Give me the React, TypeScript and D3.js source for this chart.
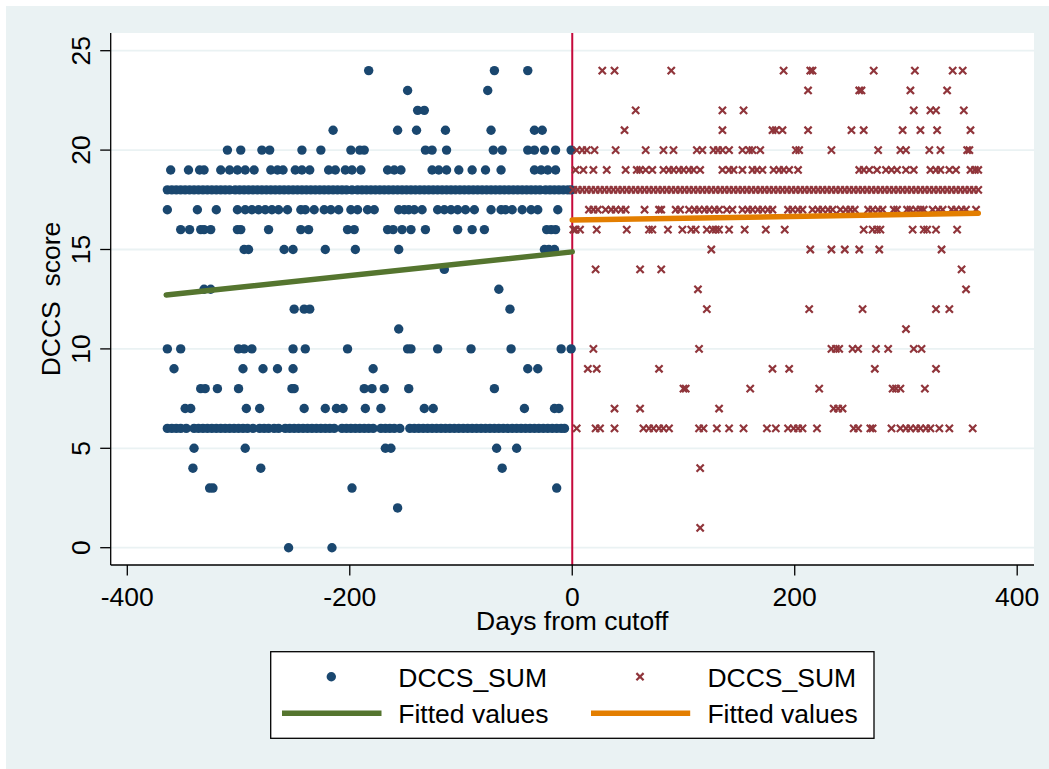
import React from "react";
import { scaleLinear, line } from "d3";

// DCCS score by days from cutoff
const leftRows: [number, number[]][] = [
  [24, [-183, -70, -40]],
  [23, [-148, -76]],
  [22, [-139, -133]],
  [21, [-215, -157, -140, -114, -73, -34, -27]],
  [20, [-310, -298, -279, -272, -243, -226, -199, -191, -187, -132, -126, -113, -71, -63, -40, -34, -25, -15, -1]],
  [19, [-361, -345, -335, -331, -316, -308, -301, -294, -286, -271, -265, -260, -249, -243, -236, -219, -213, -204, -198, -190, -166, -160, -154, -126, -120, -113, -102, -90, -78, -64, -34, -28, -22, -15]],
  [18, [-364, -360, -356, -352, -348, -344, -340, -336, -332, -328, -324, -320, -316, -312, -308, -303, -299, -295, -291, -287, -283, -279, -275, -271, -267, -263, -259, -255, -251, -247, -243, -239, -235, -231, -227, -223, -219, -215, -211, -207, -203, -198, -193, -189, -185, -181, -177, -173, -169, -165, -161, -157, -153, -149, -145, -141, -137, -133, -129, -125, -121, -117, -113, -109, -105, -101, -97, -93, -89, -85, -81, -77, -73, -69, -65, -61, -57, -53, -49, -45, -41, -37, -33, -29, -24, -20, -16, -12, -8, -4, -1]],
  [17, [-364, -337, -320, -301, -294, -288, -282, -276, -270, -264, -256, -244, -240, -232, -223, -217, -210, -199, -193, -184, -178, -156, -151, -147, -142, -135, -121, -115, -109, -103, -96, -88, -73, -64, -60, -54, -45, -37, -31, -13]],
  [16, [-352, -344, -334, -331, -325, -301, -298, -273, -244, -237, -202, -196, -166, -161, -153, -145, -132, -103, -90, -79, -23, -19, -15]],
  [15, [-295, -291, -259, -251, -222, -195, -156, -25, -21, -16]],
  [14, [-115]],
  [13, [-331, -325, -66]],
  [12, [-250, -241, -236, -56]],
  [11, [-156]],
  [10, [-364, -352, -300, -295, -288, -251, -240, -202, -148, -145, -121, -91, -55, -10, -1]],
  [9, [-358, -296, -278, -265, -251, -179, -40, -31]],
  [8, [-334, -330, -319, -300, -252, -250, -187, -180, -169, -147, -70]],
  [7, [-348, -343, -293, -281, -241, -222, -212, -206, -186, -172, -133, -125, -43, -16, -12]],
  [6, [-364, -360, -356, -352, -347, -340, -336, -332, -328, -324, -320, -316, -312, -308, -304, -300, -296, -292, -287, -281, -277, -273, -268, -264, -258, -254, -250, -246, -242, -238, -234, -230, -226, -222, -218, -214, -207, -203, -199, -195, -191, -187, -183, -179, -172, -168, -164, -160, -155, -146, -142, -138, -134, -130, -126, -122, -118, -114, -110, -106, -102, -98, -94, -90, -86, -82, -78, -74, -70, -66, -62, -58, -54, -50, -46, -42, -38, -34, -30, -26, -22, -18, -14, -10, -7]],
  [5, [-340, -294, -168, -163, -68, -50]],
  [4, [-341, -280, -63]],
  [3, [-326, -323, -198, -14]],
  [2, [-157]],
  [0, [-255, -216]],
];

const rightRows: [number, number[]][] = [
  [24, [27, 38, 89, 190, 214, 216, 271, 308, 342, 351]],
  [23, [212, 258, 260, 304, 337]],
  [22, [57, 135, 154, 307, 322, 327, 352]],
  [21, [47, 135, 180, 183, 189, 212, 251, 262, 297, 313, 328, 358]],
  [20, [4, 9, 13, 20, 39, 66, 82, 91, 112, 117, 127, 131, 135, 141, 153, 159, 162, 169, 201, 204, 233, 275, 295, 300, 321, 331, 355, 357]],
  [19, [3, 10, 19, 31, 48, 58, 61, 66, 72, 82, 87, 91, 96, 100, 105, 109, 115, 135, 141, 145, 153, 162, 166, 171, 181, 186, 190, 195, 203, 258, 262, 267, 274, 282, 287, 292, 300, 307, 322, 327, 331, 339, 345, 358, 362, 365]],
  [18, [1, 5, 9, 13, 17, 21, 25, 29, 33, 37, 41, 45, 49, 53, 57, 61, 65, 69, 73, 77, 81, 85, 89, 93, 97, 101, 105, 109, 113, 117, 121, 125, 129, 133, 137, 141, 145, 149, 153, 157, 161, 165, 169, 173, 177, 181, 185, 189, 193, 197, 201, 205, 209, 213, 217, 221, 225, 229, 233, 237, 241, 245, 249, 253, 257, 261, 265, 269, 273, 277, 281, 285, 289, 293, 297, 301, 305, 309, 313, 317, 321, 325, 329, 333, 337, 341, 345, 349, 353, 357, 361, 365]],
  [17, [15, 19, 23, 30, 35, 39, 44, 48, 65, 78, 80, 93, 97, 105, 110, 114, 119, 123, 128, 132, 139, 144, 153, 158, 162, 167, 171, 176, 180, 194, 198, 203, 207, 216, 221, 225, 230, 234, 241, 246, 250, 254, 266, 270, 275, 279, 289, 292, 301, 304, 309, 313, 316, 324, 329, 333, 341, 345, 350, 354, 363]],
  [16, [1, 3, 7, 22, 49, 69, 72, 86, 99, 107, 111, 121, 126, 129, 132, 141, 155, 174, 191, 262, 270, 274, 277, 306, 316, 319, 327, 346]],
  [15, [125, 214, 233, 245, 258, 276, 332]],
  [14, [21, 61, 80, 350]],
  [13, [113, 354]],
  [12, [121, 213, 261, 327, 339]],
  [11, [300]],
  [10, [19, 114, 233, 237, 240, 252, 257, 273, 284, 307, 314]],
  [9, [14, 22, 78, 180, 195, 272, 327]],
  [8, [100, 102, 160, 222, 288, 291, 295, 317]],
  [7, [38, 61, 132, 235, 239, 243]],
  [6, [4, 21, 25, 38, 64, 69, 73, 78, 82, 87, 114, 118, 130, 141, 154, 175, 183, 194, 199, 203, 207, 220, 253, 257, 268, 270, 287, 295, 300, 304, 309, 313, 318, 322, 330, 339, 360]],
  [4, [115]],
  [1, [115]],
];

// fitted line end points [day, value]
const leftFit: [number, number][] = [[-365, 12.71], [0, 14.88]];
const rightFit: [number, number][] = [[0, 16.48], [365, 16.82]];

const xTicks = [-400, -200, 0, 200, 400];
const yTicks = [0, 5, 10, 15, 20, 25];
const legendLabels = ["DCCS_SUM", "DCCS_SUM", "Fitted values", "Fitted values"];

const NAVY = "#1A476F";
const MAROON = "#90353B";
const GREEN = "#55752F";
const ORANGE = "#E37E00";
const XLINE = "#C5093B";
const BG = "#EAF2F3";
const FONT = "Arial, 'Liberation Sans', Helvetica, sans-serif";

const xMark = "M-3.6,-3.6L3.6,3.6M-3.6,3.6L3.6,-3.6";

export default function App() {
  const width = 1049;
  const height = 769;
  const plot = { left: 110.7, right: 1034, top: 33, bottom: 565 };

  const x = scaleLinear().domain([-400, 400]).range([127.3, 1017.2]);
  const y = scaleLinear().domain([0, 25]).range([547.7, 50.7]);
  const fitLine = line<[number, number]>()
    .x(d => x(d[0]))
    .y(d => y(d[1]));

  const leftPts = leftRows.flatMap(([score, days]) => days.map(d => ({ d, score })));
  const rightPts = rightRows.flatMap(([score, days]) => days.map(d => ({ d, score })));

  return (
    <svg width={width} height={height}
         style={{ position: "absolute", left: 0, top: 0, display: "block", fontFamily: FONT }}>
      <rect x={0} y={0} width={width} height={height} fill="white"/>
      <rect x={6} y={6} width={width - 6} height={height - 6} fill={BG}/>
      <rect x={plot.left} y={plot.top} width={plot.right - plot.left} height={plot.bottom - plot.top} fill="white"/>

      {/* grid */}
      {yTicks.map(t => (
        <line key={"g" + t} x1={plot.left} x2={plot.right} y1={y(t)} y2={y(t)} stroke={BG} strokeWidth={1.8}/>
      ))}

      {/* cutoff line */}
      <line x1={x(0)} x2={x(0)} y1={plot.top} y2={plot.bottom} stroke={XLINE} strokeWidth={2}/>

      {/* scatter */}
      {leftPts.map((p, i) => (
        <circle key={"l" + i} cx={x(p.d)} cy={y(p.score)} r={4.7} fill={NAVY}/>
      ))}
      {rightPts.map((p, i) => (
        <path key={"r" + i} d={xMark} transform={`translate(${x(p.d)},${y(p.score)})`}
              stroke={MAROON} strokeWidth={2.2} fill="none"/>
      ))}

      {/* fits */}
      <path d={fitLine(leftFit) || ""} stroke={GREEN} strokeWidth={5.5} strokeLinecap="round" fill="none"/>
      <path d={fitLine(rightFit) || ""} stroke={ORANGE} strokeWidth={5.5} strokeLinecap="round" fill="none"/>

      {/* y axis */}
      <line x1={plot.left} x2={plot.left} y1={plot.top} y2={plot.bottom} stroke="black" strokeWidth={1.3}/>
      {yTicks.map(t => (
        <g key={"y" + t}>
          <line x1={plot.left - 10.5} x2={plot.left} y1={y(t)} y2={y(t)} stroke="black" strokeWidth={1.3}/>
          <text transform={`translate(89.5,${y(t)}) rotate(-90)`} textAnchor="middle" fontSize={26.5}>{t}</text>
        </g>
      ))}
      <text transform={`translate(60,${(plot.top + plot.bottom) / 2}) rotate(-90)`} textAnchor="middle"
            fontSize={26.5} style={{ whiteSpace: "pre" }}>{"DCCS  score"}</text>

      {/* x axis */}
      <line x1={plot.left} x2={plot.right} y1={plot.bottom} y2={plot.bottom} stroke="black" strokeWidth={1.3}/>
      {xTicks.map(t => (
        <g key={"x" + t}>
          <line x1={x(t)} x2={x(t)} y1={plot.bottom} y2={plot.bottom + 10.5} stroke="black" strokeWidth={1.3}/>
          <text x={x(t)} y={606} textAnchor="middle" fontSize={26.5}>{t}</text>
        </g>
      ))}
      <text x={x(0)} y={630} textAnchor="middle" fontSize={26.5}>Days from cutoff</text>

      {/* legend */}
      <rect x={270.7} y={651.7} width={603.3} height={86.6} fill="white" stroke="black" strokeWidth={1.3}/>
      <circle cx={331.3} cy={676.7} r={4.7} fill={NAVY}/>
      <path d={xMark} transform="translate(640,676.7)" stroke={MAROON} strokeWidth={2.2} fill="none"/>
      <line x1={282} x2={381.5} y1={713.3} y2={713.3} stroke={GREEN} strokeWidth={5.5}/>
      <line x1={591} x2={690.2} y1={713.3} y2={713.3} stroke={ORANGE} strokeWidth={5.5}/>
      <text x={398.3} y={686.5} fontSize={26.5}>{legendLabels[0]}</text>
      <text x={707.4} y={686.5} fontSize={26.5}>{legendLabels[1]}</text>
      <text x={398.3} y={722.5} fontSize={26.5}>{legendLabels[2]}</text>
      <text x={707.4} y={722.5} fontSize={26.5}>{legendLabels[3]}</text>
    </svg>
  );
}
